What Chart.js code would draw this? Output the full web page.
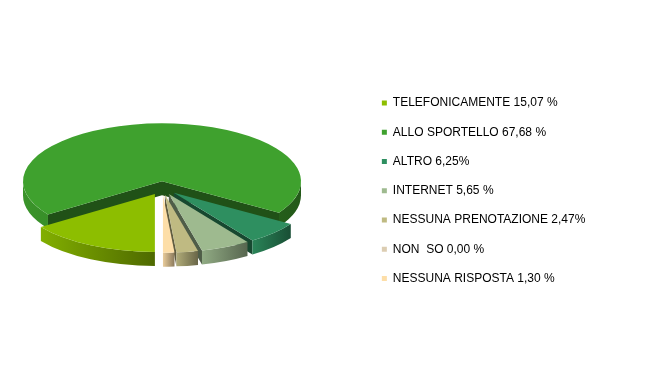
<!DOCTYPE html>
<html>
<head>
<meta charset="utf-8">
<script src="https://cdn.jsdelivr.net/npm/chart.js@4/dist/chart.umd.min.js"></script>
<style>
  html, body { margin: 0; padding: 0; background: #ffffff; }
  #wrap { width: 653px; height: 392px; overflow: hidden; position: relative; }
  /* the canvas is wider than the page so the pie sits further left of the legend */
  #chart { position: absolute; left: -40px; top: 0; }
</style>
</head>
<body>
<div id="wrap"><canvas id="chart" width="693" height="392"></canvas></div>
<script>
// Legend entries, in drawing order (clockwise from the bottom of the pie)
const categories = [
  'TELEFONICAMENTE 15,07 %',
  'ALLO SPORTELLO 67,68 %',
  'ALTRO 6,25%',
  'INTERNET 5,65 %',
  'NESSUNA PRENOTAZIONE 2,47%',
  'NON  SO 0,00 %',
  'NESSUNA RISPOSTA 1,30 %'
];
// Percentage of answers for each category
const shares = [15.07, 67.68, 6.25, 5.65, 2.47, 0.00, 1.30];
// Slice colours
const sliceColors = ['#8DBE00', '#3FA12E', '#2E8F60', '#9EBA8F', '#BFBA82', '#DCCDB2', '#FDDEA8'];

function shade(hex, f) {
  const n = parseInt(hex.slice(1), 16);
  const r = Math.round(((n >> 16) & 255) * f);
  const g = Math.round(((n >> 8) & 255) * f);
  const b = Math.round((n & 255) * f);
  return 'rgb(' + r + ',' + g + ',' + b + ')';
}

// Draws the pie's arcs as a tilted, exploded 3D disc: each slice keeps the
// angles and radius computed by Chart.js and gets side walls below its top face.
const pie3d = {
  id: 'pie3d',
  beforeDatasetDraw(chart, args, opts) {
    const ctx = chart.ctx;
    const colors = chart.data.datasets[args.index].backgroundColor;
    const { tilt, depth, lift, explode, wallLight, wallDark, faceShade } = opts;
    const TAU = Math.PI * 2;
    const slices = [];
    args.meta.data.forEach((arc, i) => {
      const s = arc.startAngle, e = arc.endAngle;
      if (!(e - s > 0)) return;
      const mid = (s + e) / 2;
      const ux = arc.x + Math.cos(mid) * explode;
      const uy = arc.y + Math.sin(mid) * explode;
      slices.push({
        s, e, mid, r: arc.outerRadius, color: colors[i],
        px: ux,
        py: arc.y - lift + (uy - arc.y) * tilt
      });
    });
    // back slices first
    slices.sort((a, b) => Math.sin(a.mid) - Math.sin(b.mid));

    ctx.save();
    slices.forEach(sl => {
      const { s, e, r, px, py, color } = sl;
      const ry = r * tilt;
      const rim = a => [px + r * Math.cos(a), py + ry * Math.sin(a)];

      // radial cut faces that turn toward the viewer
      const face = a => {
        const [x0, y0] = rim(a);
        ctx.beginPath();
        ctx.moveTo(px, py);
        ctx.lineTo(x0, y0);
        ctx.lineTo(x0, y0 + depth);
        ctx.lineTo(px, py + depth);
        ctx.closePath();
        ctx.fillStyle = shade(color, faceShade);
        ctx.fill();
      };
      if (Math.cos(s) < -1e-6) face(s);
      if (Math.cos(e) > 1e-6) face(e);

      // front part of the curved outer wall
      const spans = [];
      for (let k = -1; k <= 2; k++) {
        const a = Math.max(s, k * TAU);
        const b = Math.min(e, k * TAU + Math.PI);
        if (b > a) spans.push([a, b]);
      }
      if (spans.length) {
        let xmin = Infinity, xmax = -Infinity;
        spans.forEach(([a, b]) => {
          xmin = Math.min(xmin, px + r * Math.cos(b));
          xmax = Math.max(xmax, px + r * Math.cos(a));
        });
        let fill = shade(color, (wallLight + wallDark) / 2);
        if (xmax - xmin > 0.5) {
          fill = ctx.createLinearGradient(xmin, 0, xmax, 0);
          fill.addColorStop(0, shade(color, wallLight));
          fill.addColorStop(1, shade(color, wallDark));
        }
        spans.forEach(([a, b]) => {
          ctx.beginPath();
          ctx.ellipse(px, py, r, ry, 0, a, b);
          ctx.ellipse(px, py + depth, r, ry, 0, b, a, true);
          ctx.closePath();
          ctx.fillStyle = fill;
          ctx.fill();
        });
      }

      // top face
      ctx.beginPath();
      ctx.moveTo(px, py);
      ctx.ellipse(px, py, r, ry, 0, s, e);
      ctx.closePath();
      ctx.fillStyle = color;
      ctx.fill();
    });
    ctx.restore();
    return false;
  }
};

new Chart(document.getElementById('chart'), {
  type: 'pie',
  data: {
    labels: categories,
    datasets: [{
      data: shares,
      backgroundColor: sliceColors,
      borderWidth: 0
    }]
  },
  options: {
    responsive: false,
    animation: false,
    events: [],
    rotation: 180,
    radius: 139,
    layout: { padding: { left: 0, right: 57.65, top: 0, bottom: 10.5 } },
    plugins: {
      legend: {
        position: 'right',
        align: 'center',
        labels: {
          boxWidth: 5,
          boxHeight: 5,
          padding: 17.25,
          color: '#000000',
          font: { family: "'Liberation Sans', Arial, sans-serif", size: 12 }
        }
      },
      tooltip: { enabled: false },
      pie3d: {
        tilt: 0.417,
        depth: 14,
        lift: 2.75,
        explode: 16,
        wallLight: 0.92,
        wallDark: 0.55,
        faceShade: 0.5
      }
    }
  },
  plugins: [pie3d]
});
</script>
</body>
</html>
